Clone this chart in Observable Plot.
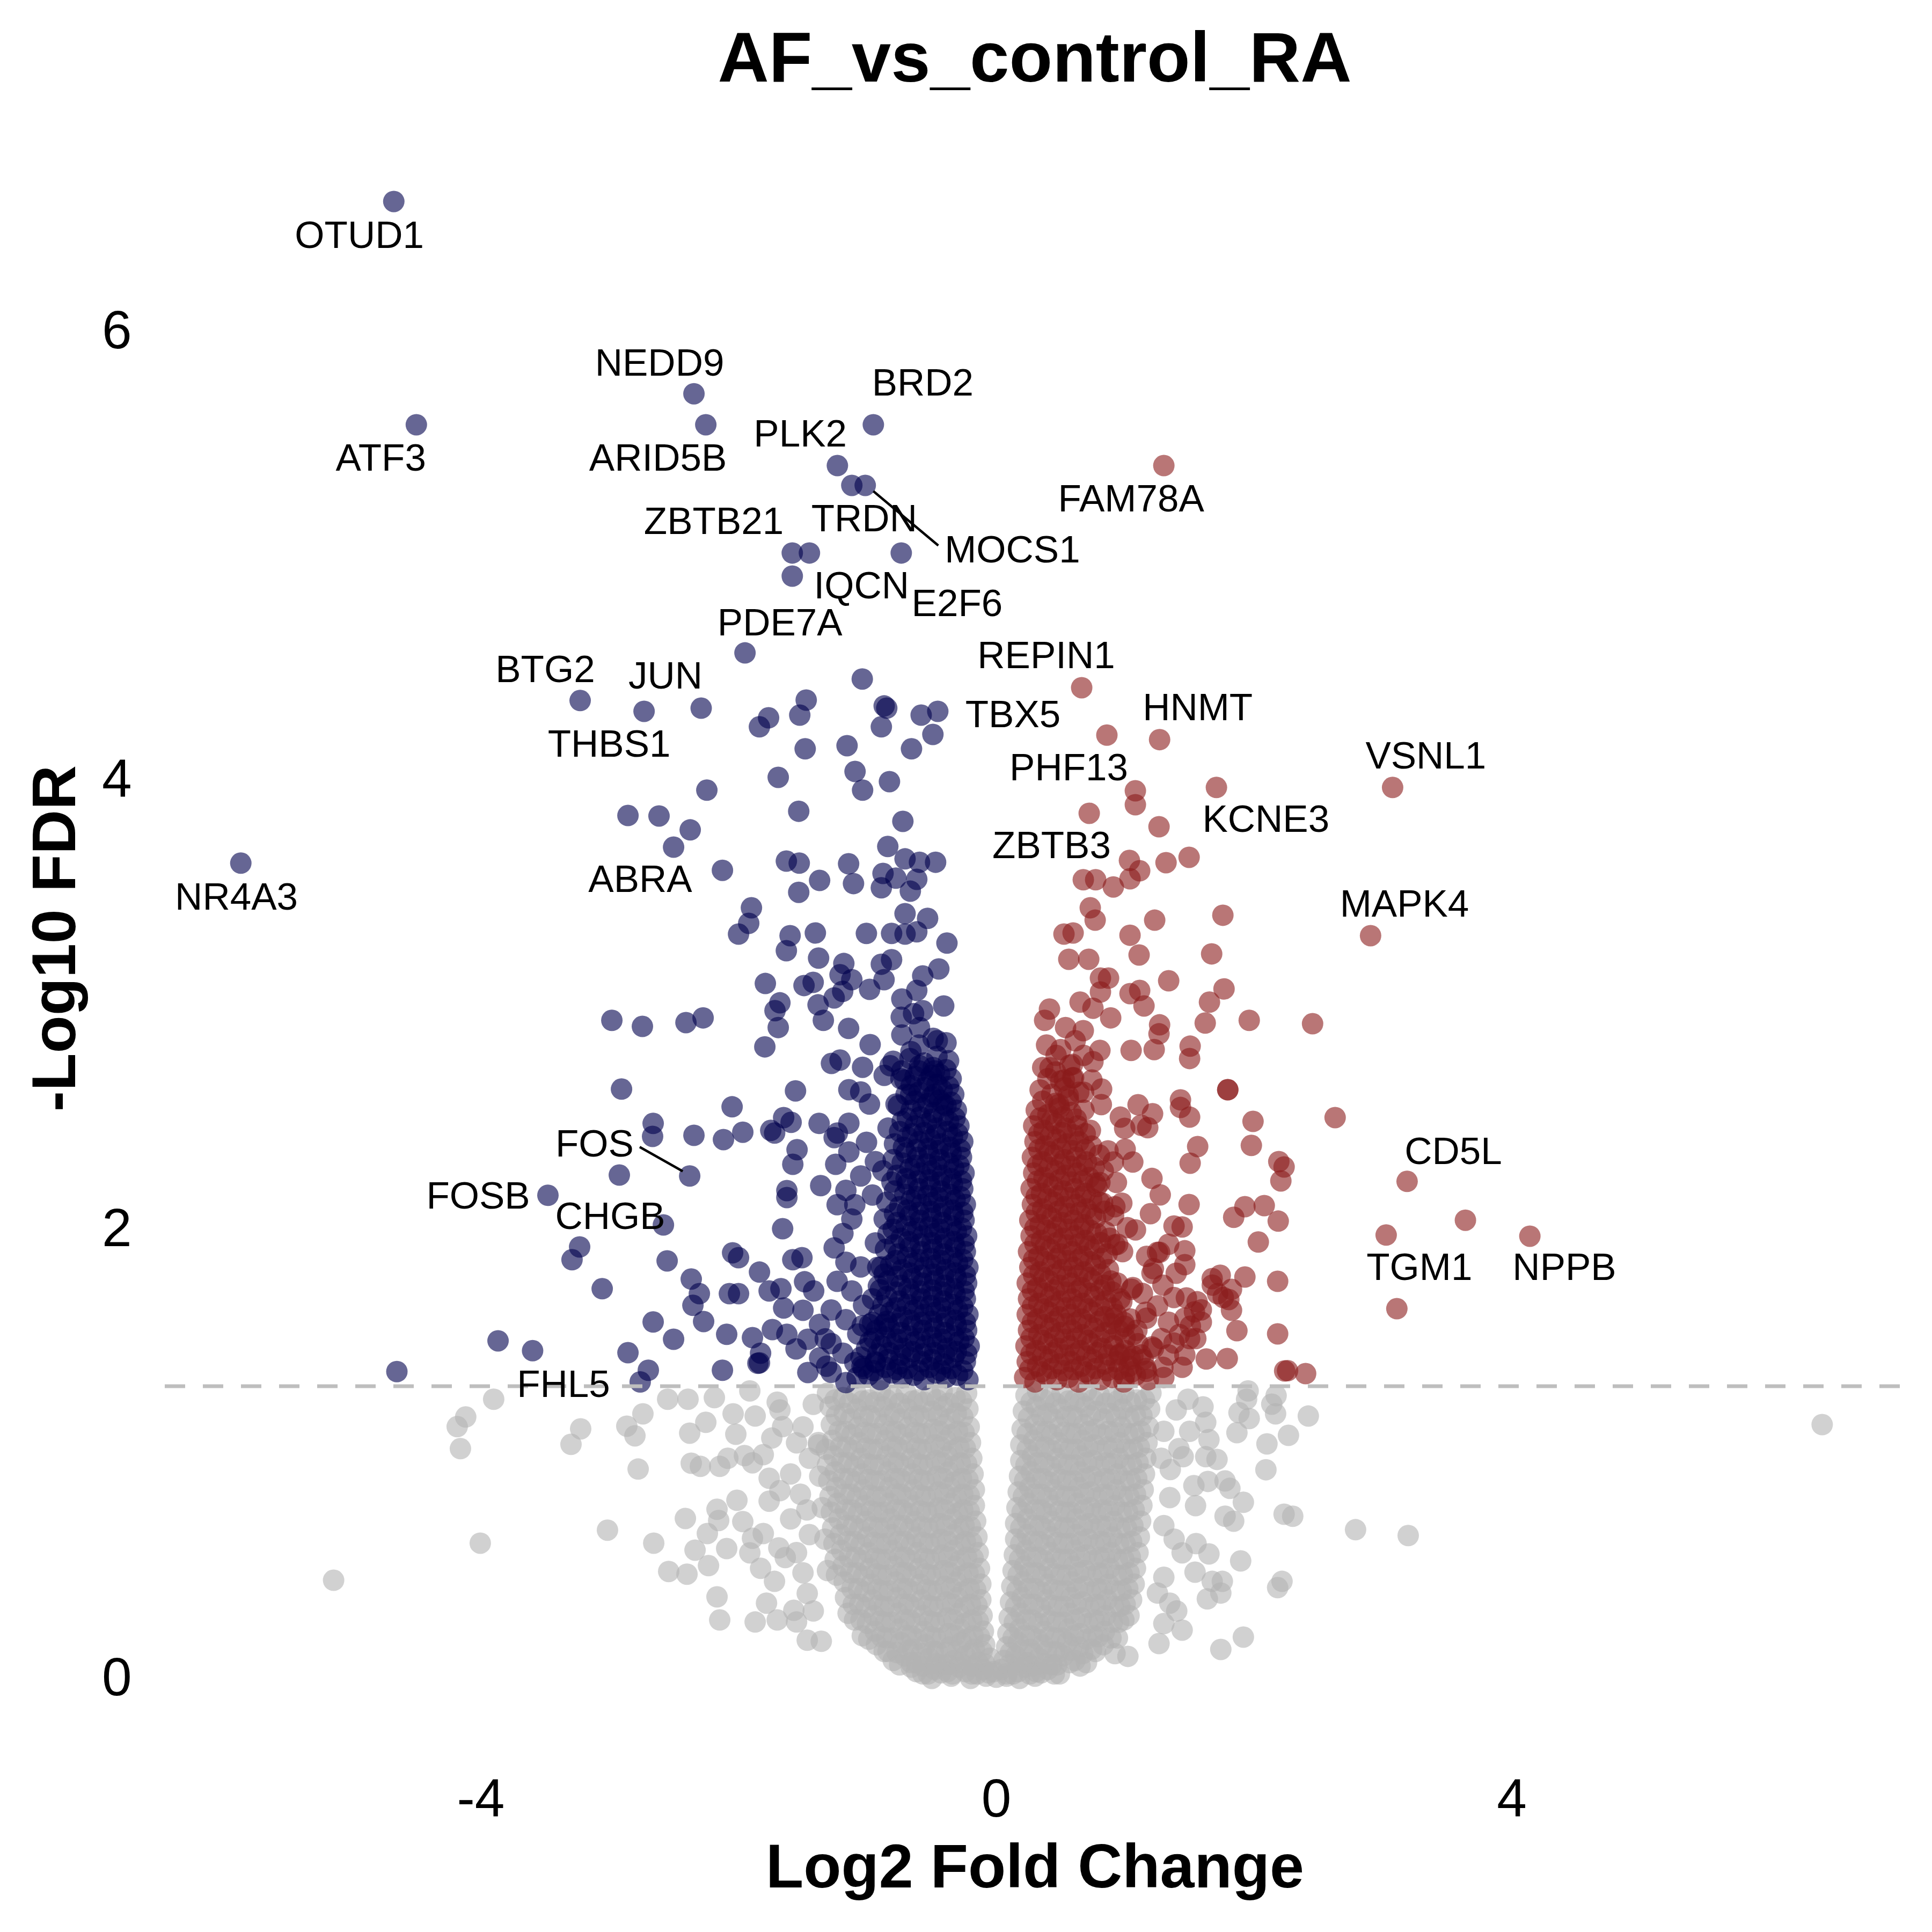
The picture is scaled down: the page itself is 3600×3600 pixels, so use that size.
<!DOCTYPE html>
<html><head><meta charset="utf-8">
<script src="https://cdn.jsdelivr.net/npm/d3@7"></script>
<script src="https://cdn.jsdelivr.net/npm/@observablehq/plot@0.6"></script>
<style>
body{margin:0;background:#fff;font-family:"Liberation Sans",Arial,Helvetica,sans-serif;}
#title{height:200px;margin-left:307px;width:3242px;text-align:center;font-size:132px;font-weight:bold;line-height:214px;white-space:nowrap;color:#000;}
</style></head><body>
<div id="title">AF_vs_control_RA</div>
<div id="chart"></div>
<script>
// ---- labelled genes ----
const geneNames = ["OTUD1","ATF3","NEDD9","ARID5B","PLK2","BRD2","TRDN","MOCS1","ZBTB21","IQCN","E2F6","PDE7A","BTG2","JUN","THBS1","NR4A3","ABRA","FOS","FOSB","CHGB","FHL5","FAM78A","REPIN1","TBX5","HNMT","PHF13","VSNL1","KCNE3","ZBTB3","MAPK4","CD5L","TGM1","NPPB"];
const geneLog2FC = [-4.675,-4.5,-2.346,-2.254,-1.233,-0.954,-1.121,-1.017,-1.583,-1.45,-0.7375,-1.95,-3.229,-2.733,-2.29,-5.862,-2.125,-2.379,-3.479,-2.583,-2.763,1.30,0.6625,0.858,1.267,1.079,3.075,1.708,0.721,2.904,3.1875,3.025,4.14];
const geneLogFDR = [6.576,5.582,5.72,5.582,5.40,5.582,5.312,5.312,5.011,5.011,5.011,4.566,4.354,4.306,4.32,3.63,3.598,2.237,2.151,2.019,1.32,5.40,4.411,4.20,4.18,3.952,3.967,3.967,3.852,3.307,2.213,1.974,1.969];
const labelX = [-4.942,-4.775,-2.6125,-2.625,-1.521,-0.571,-1.025,0.125,-2.192,-1.046,-0.304,-1.679,-3.5,-2.567,-3.004,-5.896,-2.7625,-3.117,-4.02,-2.996,-3.358,1.046,0.3875,0.129,1.5625,0.5625,3.333,2.0917,0.429,3.167,3.546,3.283,4.408];
const labelY = [6.423,5.431,5.854,5.431,5.539,5.766,5.161,5.023,5.149,4.863,4.784,4.698,4.49,4.461,4.158,3.477,3.556,2.378,2.146,2.055,1.307,5.25,4.552,4.289,4.32,4.053,4.105,3.823,3.706,3.446,2.344,1.828,1.828];
const labelLinks = [[-2.767,2.366,-2.433,2.258],[-0.954,5.286,-0.45,5.044]];

// ---- significant, down-regulated (log2FC < 0, FDR < 0.05) ----
const downScattered = [[-1.583,4.908],[-1.04,4.45],[-1.475,4.356],[-1.767,4.277],[-1.838,4.237],[-1.525,4.289],[-0.87,4.33],[-0.85,4.32],[-0.892,4.237],[-0.583,4.289],[-0.454,4.306],[-0.492,4.203],[-1.158,4.153],[-1.483,4.139],[-0.658,4.139],[-2.246,3.955],[-1.692,4.012],[-1.096,4.038],[-1.0375,3.955],[-0.829,3.993],[-1.533,3.861],[-0.725,3.816],[-2.858,3.842],[-2.617,3.84],[-2.375,3.778],[-2.504,3.701],[-1.629,3.639],[-1.529,3.63],[-1.371,3.553],[-1.533,3.5],[-0.842,3.704],[-1.146,3.627],[-1.108,3.539],[-0.879,3.584],[-0.892,3.52],[-0.708,3.649],[-0.596,3.634],[-0.471,3.634],[-0.617,3.558],[-0.667,3.505],[-0.779,3.563],[-1.9,3.431],[-1.921,3.362],[-2.0,3.314],[-1.6,3.307],[-1.629,3.24],[-1.404,3.319],[-1.379,3.207],[-1.008,3.317],[-0.8125,3.317],[-0.708,3.314],[-0.708,3.405],[-0.533,3.384],[-0.617,3.324],[-0.383,3.274],[-1.183,3.183],[-0.892,3.18],[-0.8125,3.2],[-1.792,3.094],[-1.492,3.085],[-1.421,3.099],[-1.2125,3.133],[-1.121,3.111],[-0.983,3.068],[-0.871,3.111],[-1.192,3.059],[-1.258,3.03],[-0.617,3.063],[-0.446,3.159],[-0.571,3.128],[-1.679,3.008],[-1.717,2.973],[-1.692,2.898],[-1.383,2.999],[-1.342,2.93],[-1.146,2.894],[-0.733,3.025],[-0.408,2.994],[-0.7375,2.944],[-0.642,2.96],[-0.571,2.973],[-1.796,2.812],[-0.979,2.822],[-1.279,2.738],[-1.2125,2.753],[-1.0375,2.721],[-0.733,2.865],[-0.596,2.898],[-0.458,2.839],[-0.479,2.705],[-0.6625,2.791],[-0.8,2.748],[-0.733,2.705],[-2.983,2.93],[-2.746,2.903],[-2.408,2.92],[-2.275,2.941],[-2.908,2.624],[-1.558,2.616],[-2.05,2.545],[-2.6625,2.471],[-2.667,2.413],[-2.346,2.418],[-2.117,2.399],[-1.967,2.432],[-1.75,2.44],[-1.72,2.428],[-1.65,2.497],[-1.592,2.476],[-1.375,2.471],[-1.233,2.428],[-1.546,2.354],[-1.579,2.289],[-1.246,2.289],[-1.3625,2.194],[-1.625,2.172],[-1.625,2.141],[-2.925,2.241],[-3.233,1.921],[-3.292,1.864],[-3.058,1.735],[-2.554,1.859],[-1.658,2.002],[-2.046,1.895],[-2.0,1.873],[-1.8375,1.809],[-1.579,1.864],[-1.508,1.873],[-2.367,1.778],[-2.304,1.713],[-2.354,1.661],[-2.271,1.589],[-2.6625,1.587],[-2.504,1.51],[-2.858,1.45],[-2.7,1.372],[-2.071,1.713],[-2.0,1.713],[-2.092,1.532],[-1.892,1.517],[-1.829,1.448],[-1.8375,1.405],[-2.125,1.372],[-1.7625,1.725],[-1.671,1.735],[-1.65,1.649],[-1.5,1.639],[-1.4875,1.766],[-1.417,1.725],[-1.7375,1.553],[-1.625,1.532],[-1.554,1.467],[-1.4625,1.51],[-1.4625,1.362],[-1.371,1.427],[-3.598,1.459],[-4.651,1.366],[-3.866,1.503],[-1.85,1.403],[-1.317,1.39],[-1.167,1.317],[-1.042,1.39],
[-1.144,2.472],[-1.258,2.408],[-1.144,2.344],[-1.007,2.387],[-0.938,2.301],[-1.052,2.237],[-1.167,2.173],[-1.098,2.109],[-0.961,2.152],[-1.235,2.109],[-1.121,2.045],[-1.19,1.981],[-1.258,1.917],[-1.167,1.853],[-1.052,1.832],[-1.235,1.768],[-1.121,1.725],[-1.03,1.661],[-1.281,1.64],[-1.167,1.597],[-1.075,1.533],[-0.984,1.576],[-1.281,1.491],[-1.19,1.448],[-1.098,1.406],[-1.007,1.469],[-1.372,1.576],[-1.327,1.512],[-1.281,1.363],[-0.938,1.406],[-0.915,1.747],[-0.938,1.939],[-0.87,2.045],[-0.892,1.832],[-0.87,1.576],
[-1.052,2.611],[-1.144,2.621],[-0.984,2.557],[-0.824,2.728],[-0.87,2.685],[-0.71,2.664],[-0.595,2.728],[-0.504,2.685],[-0.664,2.6],[-0.481,2.6],[-0.778,2.557],[-0.412,2.557]];
const downCore = [[-0.22,1.33],[-0.3,1.35],[-0.39,1.34],[-0.47,1.36],[-0.56,1.33],[-0.64,1.35],[-0.73,1.34],[-0.81,1.36],[-0.9,1.33],[-0.99,1.35],[-1.08,1.34],
[-0.24,1.41],[-0.33,1.43],[-0.41,1.4],[-0.5,1.42],[-0.58,1.41],[-0.67,1.43],[-0.75,1.4],[-0.84,1.42],[-0.94,1.41],[-1.05,1.43],
[-0.21,1.48],[-0.29,1.5],[-0.38,1.47],[-0.46,1.49],[-0.55,1.48],[-0.63,1.5],[-0.72,1.47],[-0.8,1.49],[-0.89,1.48],[-0.98,1.5],
[-0.23,1.55],[-0.31,1.57],[-0.4,1.54],[-0.48,1.56],[-0.57,1.55],[-0.65,1.57],[-0.74,1.54],[-0.83,1.56],[-0.93,1.55],[-1.04,1.57],
[-0.22,1.62],[-0.3,1.64],[-0.39,1.61],[-0.47,1.63],[-0.56,1.62],[-0.64,1.64],[-0.73,1.61],[-0.82,1.63],[-0.91,1.62],
[-0.24,1.69],[-0.32,1.71],[-0.41,1.68],[-0.49,1.7],[-0.58,1.69],[-0.66,1.71],[-0.75,1.68],[-0.85,1.7],[-0.96,1.69],
[-0.23,1.76],[-0.31,1.78],[-0.4,1.75],[-0.48,1.77],[-0.57,1.76],[-0.65,1.78],[-0.74,1.75],[-0.84,1.77],
[-0.22,1.83],[-0.3,1.85],[-0.39,1.82],[-0.47,1.84],[-0.56,1.83],[-0.64,1.85],[-0.73,1.82],[-0.82,1.84],[-0.92,1.83],
[-0.24,1.9],[-0.32,1.92],[-0.41,1.89],[-0.49,1.91],[-0.58,1.9],[-0.67,1.92],[-0.76,1.89],[-0.86,1.91],
[-0.23,1.97],[-0.31,1.99],[-0.4,1.96],[-0.48,1.98],[-0.57,1.97],[-0.65,1.99],[-0.74,1.96],[-0.84,1.98],
[-0.25,2.04],[-0.33,2.06],[-0.42,2.03],[-0.5,2.05],[-0.59,2.04],[-0.67,2.06],[-0.77,2.03],
[-0.24,2.11],[-0.32,2.13],[-0.41,2.1],[-0.49,2.12],[-0.58,2.11],[-0.66,2.13],[-0.75,2.1],[-0.85,2.12],
[-0.26,2.18],[-0.34,2.2],[-0.43,2.17],[-0.51,2.19],[-0.6,2.18],[-0.69,2.2],[-0.79,2.17],
[-0.25,2.25],[-0.33,2.27],[-0.42,2.24],[-0.5,2.26],[-0.59,2.25],[-0.67,2.27],[-0.77,2.24],[-0.88,2.26],
[-0.27,2.32],[-0.35,2.34],[-0.44,2.31],[-0.52,2.33],[-0.61,2.32],[-0.7,2.34],[-0.8,2.31],
[-0.26,2.39],[-0.34,2.41],[-0.43,2.38],[-0.51,2.4],[-0.6,2.39],[-0.69,2.41],[-0.79,2.38],
[-0.29,2.46],[-0.37,2.48],[-0.46,2.45],[-0.54,2.47],[-0.63,2.46],[-0.73,2.48],[-0.84,2.45],
[-0.31,2.53],[-0.39,2.55],[-0.48,2.52],[-0.57,2.54],[-0.66,2.53],[-0.76,2.55],
[-0.33,2.6],[-0.42,2.62],[-0.5,2.59],[-0.6,2.61],[-0.7,2.6],
[-0.35,2.67],[-0.44,2.69],[-0.53,2.66],[-0.63,2.68],[-0.74,2.67],
[-0.37,2.75],[-0.46,2.77],[-0.56,2.74],[-0.67,2.76],
[-0.39,2.83],[-0.49,2.85],[-0.6,2.82]];
const downCoreFill = [[-0.26,1.37],[-0.35,1.38],[-0.43,1.37],[-0.52,1.385],[-0.6,1.37],[-0.69,1.38],[-0.77,1.375],[-0.86,1.385],[-0.95,1.37],[-1.03,1.38],
[-0.23,1.445],[-0.31,1.455],[-0.4,1.44],[-0.48,1.45],[-0.57,1.445],[-0.65,1.455],[-0.74,1.44],[-0.83,1.45],[-0.92,1.445],
[-0.25,1.515],[-0.33,1.525],[-0.42,1.51],[-0.5,1.52],[-0.59,1.515],[-0.68,1.525],[-0.77,1.51],[-0.86,1.52],[-0.95,1.515],
[-0.24,1.585],[-0.32,1.595],[-0.41,1.58],[-0.5,1.59],[-0.58,1.585],[-0.67,1.595],[-0.76,1.58],[-0.85,1.59],[-0.96,1.585],
[-0.26,1.655],[-0.34,1.665],[-0.43,1.65],[-0.51,1.66],[-0.6,1.655],[-0.69,1.665],[-0.78,1.65],[-0.88,1.66],
[-0.25,1.725],[-0.33,1.735],[-0.42,1.72],[-0.5,1.73],[-0.59,1.725],[-0.68,1.735],[-0.78,1.72],[-0.9,1.73],
[-0.24,1.795],[-0.32,1.805],[-0.41,1.79],[-0.49,1.8],[-0.58,1.795],[-0.67,1.805],[-0.77,1.79],[-0.87,1.8],
[-0.26,1.865],[-0.34,1.875],[-0.43,1.86],[-0.51,1.87],[-0.6,1.865],[-0.69,1.875],[-0.78,1.86],
[-0.25,1.935],[-0.33,1.945],[-0.42,1.93],[-0.5,1.94],[-0.59,1.935],[-0.68,1.945],[-0.79,1.93],
[-0.27,2.005],[-0.35,2.015],[-0.44,2.0],[-0.52,2.01],[-0.61,2.005],[-0.7,2.015],[-0.8,2.0],
[-0.26,2.075],[-0.34,2.085],[-0.43,2.07],[-0.51,2.08],[-0.6,2.075],[-0.69,2.085],[-0.79,2.07],
[-0.28,2.145],[-0.36,2.155],[-0.45,2.14],[-0.53,2.15],[-0.62,2.145],[-0.71,2.155],
[-0.27,2.215],[-0.35,2.225],[-0.44,2.21],[-0.52,2.22],[-0.61,2.215],[-0.7,2.225],[-0.81,2.21],
[-0.29,2.285],[-0.37,2.295],[-0.46,2.28],[-0.54,2.29],[-0.63,2.285],[-0.73,2.295],
[-0.28,2.355],[-0.36,2.365],[-0.45,2.35],[-0.53,2.36],[-0.62,2.355],[-0.72,2.365],
[-0.3,2.425],[-0.38,2.435],[-0.47,2.42],[-0.56,2.43],[-0.65,2.425],[-0.75,2.435],
[-0.32,2.495],[-0.41,2.505],[-0.5,2.49],[-0.59,2.5],[-0.69,2.495],
[-0.35,2.565],[-0.44,2.575],[-0.53,2.56],[-0.63,2.57],
[-0.37,2.635],[-0.46,2.645],[-0.56,2.63],[-0.66,2.64],
[-0.39,2.71],[-0.49,2.72],[-0.6,2.705]];

// ---- significant, up-regulated (log2FC > 0, FDR < 0.05) ----
const upScattered = [[1.079,3.89],[1.2625,3.792],[1.033,3.642],[1.1125,3.596],[1.317,3.632],[1.496,3.656],[0.675,3.556],[0.771,3.556],[0.908,3.524],[1.0375,3.56],[0.729,3.431],[0.767,3.376],[1.229,3.376],[1.758,3.398],[0.525,3.314],[0.596,3.319],[1.0375,3.309],[1.108,3.221],[1.671,3.226],[0.5625,3.202],[0.717,3.202],[0.808,3.118],[0.871,3.118],[1.3375,3.106],[0.808,3.056],[1.0375,3.049],[1.1125,3.063],[1.146,2.994],[1.767,3.07],[1.654,3.011],[0.4125,2.98],[0.375,2.93],[0.65,3.011],[0.75,2.984],[0.8875,2.941],[1.621,2.918],[1.9625,2.93],[2.454,2.915],[0.5375,2.898],[0.675,2.884],[1.267,2.91],[1.2625,2.87],[0.6125,2.839],[1.046,2.796],[1.225,2.8],[1.504,2.815],[1.5,2.76],[0.804,2.796],[0.417,2.719],[0.592,2.734],[0.75,2.746],[0.592,2.674],[0.742,2.664],[0.817,2.624],[0.558,2.595],[1.796,2.621],[1.796,2.621],[1.429,2.576],[1.429,2.542],[1.5,2.499],[1.1,2.554],[1.2125,2.514],[2.629,2.497],[1.992,2.48],[1.175,2.452],[0.9625,2.499],[0.996,2.449],[1.979,2.373],[1.5625,2.368],[1.504,2.294],[2.192,2.301],[2.233,2.277],[2.208,2.215],[1.0,2.356],[0.867,2.349],[0.908,2.299],[1.496,2.11],[1.196,2.069],[1.842,2.053],[1.929,2.1],[2.079,2.105],[2.1875,2.036],[2.033,1.943],[1.379,2.014],[1.442,2.01],[1.3375,1.933],[1.4625,1.904],[1.267,1.897],[1.208,1.804],[1.4625,1.842],[1.396,1.804],[1.675,1.78],[1.7375,1.795],[1.929,1.787],[2.183,1.768],[1.717,1.713],[1.804,1.687],[1.825,1.639],[1.558,1.677],[1.5375,1.632],[1.475,1.694],[1.867,1.548],[2.183,1.534],[1.5,1.513],[1.379,1.493],[1.629,1.422],[1.792,1.424],[2.2375,1.369],[2.4,1.357],[3.108,1.646],[2.26,1.37],[3.64,2.04],
[0.974,2.116],[1.017,2.007],[0.91,2.061],[0.942,1.933],[1.08,1.997],[1.166,1.879],[1.251,1.897],[1.219,1.824],[1.293,1.751],[1.134,1.714],[1.049,1.732],[0.974,1.677],[0.889,1.769],[0.91,1.604],[0.995,1.568],[1.091,1.55],[1.166,1.604],[1.251,1.659],[1.336,1.586],[1.282,1.513],[1.208,1.476],[1.123,1.44],[1.038,1.421],[0.953,1.44],[1.336,1.44],[1.421,1.531],[1.463,1.604],[1.378,1.696],[1.506,1.568],[1.442,1.385],[1.293,1.385],[1.166,1.367],[0.995,1.348],[1.463,1.44],[1.548,1.513],[1.591,1.586],[1.676,1.751],[1.761,1.696],[1.825,1.732],[1.591,1.641],
[1.123,2.463],[1.059,2.299],[1.208,2.226],[0.932,2.208],[1.272,2.153],[0.804,2.208],[0.825,2.116],[0.847,1.988],
[0.464,2.774],[0.677,2.774],[0.528,2.665],[0.677,2.61],[0.815,2.555],[0.485,2.555]];
const upCore = [[0.22,1.34],[0.3,1.32],[0.39,1.35],[0.47,1.33],[0.56,1.34],[0.64,1.32],[0.73,1.35],[0.81,1.33],[0.9,1.34],[0.99,1.32],[1.08,1.35],[1.18,1.33],[1.3,1.34],
[0.24,1.41],[0.32,1.39],[0.41,1.42],[0.49,1.4],[0.58,1.41],[0.66,1.39],[0.75,1.42],[0.84,1.4],[0.93,1.41],[1.03,1.39],[1.14,1.42],
[0.23,1.48],[0.31,1.46],[0.4,1.49],[0.48,1.47],[0.57,1.48],[0.65,1.46],[0.74,1.49],[0.82,1.47],[0.91,1.48],[1.0,1.46],[1.1,1.49],[1.22,1.47],
[0.25,1.55],[0.33,1.53],[0.42,1.56],[0.5,1.54],[0.59,1.55],[0.67,1.53],[0.76,1.56],[0.85,1.54],[0.95,1.55],[1.06,1.53],
[0.24,1.62],[0.32,1.6],[0.41,1.63],[0.49,1.61],[0.58,1.62],[0.66,1.6],[0.75,1.63],[0.84,1.61],[0.93,1.62],[1.04,1.6],[1.16,1.63],
[0.25,1.69],[0.33,1.67],[0.42,1.7],[0.5,1.68],[0.59,1.69],[0.67,1.67],[0.76,1.7],[0.85,1.68],[0.96,1.69],
[0.24,1.76],[0.32,1.74],[0.41,1.77],[0.49,1.75],[0.58,1.76],[0.66,1.74],[0.75,1.77],[0.84,1.75],[0.94,1.76],[1.06,1.74],
[0.26,1.83],[0.34,1.81],[0.43,1.84],[0.51,1.82],[0.6,1.83],[0.68,1.81],[0.77,1.84],[0.87,1.82],
[0.25,1.9],[0.33,1.88],[0.42,1.91],[0.5,1.89],[0.59,1.9],[0.67,1.88],[0.76,1.91],[0.86,1.89],[0.98,1.9],
[0.27,1.97],[0.35,1.95],[0.44,1.98],[0.52,1.96],[0.61,1.97],[0.69,1.95],[0.78,1.98],[0.88,1.96],
[0.26,2.04],[0.34,2.02],[0.43,2.05],[0.51,2.03],[0.6,2.04],[0.68,2.02],[0.77,2.05],
[0.28,2.11],[0.36,2.09],[0.45,2.12],[0.53,2.1],[0.62,2.11],[0.7,2.09],[0.8,2.12],[0.92,2.1],
[0.27,2.18],[0.35,2.16],[0.44,2.19],[0.52,2.17],[0.61,2.18],[0.69,2.16],[0.78,2.19],
[0.29,2.25],[0.37,2.23],[0.46,2.26],[0.54,2.24],[0.63,2.25],[0.72,2.23],[0.83,2.26],
[0.28,2.32],[0.36,2.3],[0.45,2.33],[0.53,2.31],[0.62,2.32],[0.7,2.3],[0.8,2.33],
[0.3,2.39],[0.38,2.37],[0.47,2.4],[0.55,2.38],[0.64,2.39],[0.74,2.37],
[0.29,2.46],[0.37,2.44],[0.46,2.47],[0.54,2.45],[0.63,2.46],[0.73,2.44],
[0.31,2.53],[0.4,2.51],[0.49,2.54],[0.58,2.52],[0.68,2.53],
[0.34,2.62],[0.43,2.6],[0.53,2.63],[0.64,2.61],
[0.36,2.72],[0.46,2.7],[0.57,2.73],
[0.39,2.82],[0.5,2.8]];
const upCoreFill = [[0.26,1.375],[0.35,1.365],[0.43,1.38],[0.52,1.37],[0.6,1.375],[0.69,1.365],[0.77,1.38],[0.86,1.37],[0.95,1.375],[1.05,1.365],[1.16,1.38],
[0.27,1.445],[0.36,1.435],[0.44,1.45],[0.53,1.44],[0.61,1.445],[0.7,1.435],[0.78,1.45],[0.87,1.44],[0.96,1.445],[1.06,1.435],
[0.27,1.515],[0.36,1.505],[0.45,1.52],[0.53,1.51],[0.62,1.515],[0.71,1.505],[0.8,1.52],[0.9,1.51],[1.0,1.515],
[0.28,1.585],[0.37,1.575],[0.45,1.59],[0.54,1.58],[0.62,1.585],[0.71,1.575],[0.8,1.59],[0.89,1.58],[0.99,1.585],
[0.28,1.655],[0.37,1.645],[0.45,1.66],[0.54,1.65],[0.62,1.655],[0.71,1.645],[0.8,1.66],[0.9,1.65],
[0.28,1.725],[0.37,1.715],[0.45,1.73],[0.54,1.72],[0.63,1.725],[0.72,1.715],[0.81,1.73],[0.9,1.72],
[0.29,1.795],[0.37,1.785],[0.46,1.8],[0.55,1.79],[0.63,1.795],[0.72,1.785],[0.81,1.8],
[0.29,1.865],[0.38,1.855],[0.47,1.87],[0.55,1.86],[0.64,1.865],[0.73,1.855],[0.82,1.87],
[0.3,1.935],[0.38,1.925],[0.47,1.94],[0.55,1.93],[0.64,1.935],[0.72,1.925],[0.81,1.94],[0.92,1.93],
[0.3,2.005],[0.39,1.995],[0.47,2.01],[0.56,2.0],[0.65,2.005],[0.73,1.995],
[0.31,2.075],[0.39,2.065],[0.48,2.08],[0.56,2.07],[0.65,2.075],[0.74,2.065],[0.84,2.08],
[0.31,2.145],[0.4,2.135],[0.48,2.15],[0.57,2.14],[0.66,2.145],[0.74,2.135],
[0.32,2.215],[0.4,2.205],[0.49,2.22],[0.58,2.21],[0.67,2.215],[0.77,2.205],
[0.32,2.285],[0.41,2.275],[0.5,2.29],[0.58,2.28],[0.67,2.285],[0.76,2.275],
[0.33,2.355],[0.41,2.345],[0.5,2.36],[0.59,2.35],[0.69,2.355],
[0.33,2.425],[0.42,2.415],[0.51,2.43],[0.6,2.42],[0.69,2.425],
[0.34,2.495],[0.43,2.485],[0.52,2.5],[0.62,2.49],
[0.36,2.57],[0.46,2.56],[0.56,2.575],
[0.4,2.67],[0.5,2.66],[0.6,2.675]];

// ---- not significant (FDR >= 0.05) ----
const nsScattered = [[-3.9,1.243],[-4.117,1.164],[-4.183,1.121],[-4.158,1.023],[-3.225,1.111],[-3.3,1.042],[-2.742,1.178],[-2.867,1.123],[-2.804,1.08],[-2.779,0.932],[-2.55,1.243],[-2.392,1.243],[-2.1875,1.25],[-2.254,1.14],[-2.379,1.092],[-2.367,0.958],[-2.296,0.944],[-2.146,0.944],[-2.083,0.98],[-2.042,1.178],[-2.021,1.087],[-1.9125,1.28],[-1.871,1.168],[-1.954,0.992],[-1.892,0.96],[-1.808,0.996],[-1.7,1.23],[-1.679,1.195],[-1.658,1.121],[-1.7625,0.891],[-1.679,0.836],[-2.0125,0.793],[-1.7625,0.789],[-2.167,0.753],[-2.4125,0.712],[-2.154,0.703],[-1.967,0.698],[-2.242,0.645],[-2.3375,0.571],[-2.092,0.578],[-1.9125,0.559],[-1.892,0.624],[-1.808,0.645],[-1.6875,0.581],[-1.829,0.49],[-1.721,0.432],[-2.233,0.502],[-2.542,0.476],[-2.4,0.464],[-2.167,0.363],[-2.146,0.26],[-1.783,0.335],[-1.871,0.251],[-1.7,0.26],[-1.55,0.251],[-1.467,0.17],[-1.358,0.165],[-3.017,0.66],[-2.658,0.602],[-4.004,0.602],[-5.142,0.437],[-1.742,1.07],[-1.55,1.049],[-1.596,0.91],[-1.596,0.71],[-1.6375,0.538],[-1.571,0.303],[-1.467,0.378],
[-1.42,1.22],[-1.5,1.12],[-1.45,0.98],[-1.52,0.82],[-1.45,0.64],[-1.5,0.47],[-1.42,0.3],[-1.38,1.05],[-1.55,0.56],[-1.47,0.75],
[1.954,1.28],[1.942,1.243],[2.171,1.259],[2.1375,1.221],[2.167,1.178],[2.421,1.168],[1.9625,1.157],[1.883,1.183],[1.604,1.209],[1.625,1.14],[1.867,1.094],[2.267,1.082],[2.1,1.044],[1.65,1.063],[1.7125,0.975],[2.092,0.929],[1.642,0.877],[1.775,0.879],[1.8125,0.846],[1.917,0.784],[1.546,0.769],[1.775,0.722],[1.842,0.7],[2.233,0.731],[2.3,0.722],[2.7875,0.662],[3.196,0.636],[6.408,1.13],[1.896,0.523],[2.217,0.432],[2.183,0.404],[1.754,0.432],[1.742,0.38],[1.6375,0.354],[1.542,0.473],[1.65,0.554],[1.917,0.184],[1.742,0.129],[1.442,0.215],[1.2625,0.155],[1.021,0.098],[0.921,0.11],[1.533,0.858],[1.625,0.987],[1.45,0.987],[1.396,1.195],[1.4875,1.243],[1.417,1.023],[1.346,0.805],[1.442,0.559],[1.346,0.335],[1.3,0.244],[1.675,0.432],
[1.3,1.1],[1.35,0.93],[1.3,0.68],[1.38,0.62],[1.3,0.45],[1.25,0.38],[1.4,0.3],[1.5,1.1],[1.55,0.6],[1.28,0.98]];
const nsCore = [[-0.23,1.27],[-0.32,1.25],[-0.42,1.28],[-0.51,1.26],[-0.61,1.24],[-0.7,1.27],[-0.8,1.25],[-0.9,1.28],[-0.99,1.24],[-1.09,1.27],[-1.19,1.25],[-1.31,1.27],
[0.23,1.26],[0.32,1.28],[0.42,1.25],[0.51,1.27],[0.61,1.24],[0.7,1.28],[0.8,1.26],[0.9,1.25],[0.99,1.27],[1.09,1.24],[1.2,1.27],
[-0.22,1.2],[-0.31,1.18],[-0.41,1.21],[-0.5,1.19],[-0.6,1.17],[-0.69,1.2],[-0.79,1.18],[-0.88,1.21],[-0.98,1.17],[-1.08,1.2],[-1.18,1.18],[-1.29,1.21],
[0.21,1.19],[0.31,1.21],[0.4,1.18],[0.5,1.2],[0.59,1.17],[0.69,1.21],[0.78,1.19],[0.88,1.18],[0.98,1.2],[1.08,1.17],[1.19,1.2],
[-0.21,1.12],[-0.3,1.1],[-0.4,1.13],[-0.49,1.11],[-0.59,1.09],[-0.68,1.12],[-0.78,1.1],[-0.87,1.13],[-0.97,1.09],[-1.07,1.12],[-1.17,1.1],[-1.28,1.13],
[0.2,1.11],[0.3,1.13],[0.39,1.1],[0.49,1.12],[0.58,1.09],[0.68,1.13],[0.77,1.11],[0.87,1.1],[0.97,1.12],[1.07,1.09],[1.18,1.12],
[-0.2,1.05],[-0.29,1.03],[-0.39,1.06],[-0.48,1.04],[-0.58,1.02],[-0.67,1.05],[-0.77,1.03],[-0.86,1.06],[-0.96,1.02],[-1.06,1.05],[-1.16,1.03],[-1.27,1.06],[-1.38,1.04],
[0.19,1.04],[0.29,1.06],[0.38,1.03],[0.48,1.05],[0.57,1.02],[0.67,1.06],[0.76,1.04],[0.86,1.03],[0.96,1.05],[1.06,1.02],[1.17,1.05],
[-0.19,0.98],[-0.28,0.96],[-0.38,0.99],[-0.47,0.97],[-0.57,0.95],[-0.66,0.98],[-0.76,0.96],[-0.85,0.99],[-0.95,0.95],[-1.05,0.98],[-1.15,0.96],[-1.26,0.99],
[0.19,0.97],[0.28,0.99],[0.37,0.96],[0.47,0.98],[0.56,0.95],[0.66,0.99],[0.75,0.97],[0.85,0.96],[0.95,0.98],[1.05,0.95],[1.16,0.98],
[-0.18,0.91],[-0.27,0.89],[-0.37,0.92],[-0.46,0.9],[-0.56,0.88],[-0.65,0.91],[-0.75,0.89],[-0.84,0.92],[-0.94,0.88],[-1.04,0.91],[-1.14,0.89],[-1.25,0.92],[-1.37,0.9],
[0.18,0.9],[0.27,0.92],[0.36,0.89],[0.46,0.91],[0.55,0.88],[0.65,0.92],[0.74,0.9],[0.84,0.89],[0.94,0.91],[1.04,0.88],[1.15,0.91],
[-0.17,0.84],[-0.26,0.82],[-0.36,0.85],[-0.45,0.83],[-0.55,0.81],[-0.64,0.84],[-0.74,0.82],[-0.83,0.85],[-0.93,0.81],[-1.03,0.84],[-1.13,0.82],[-1.24,0.85],
[0.17,0.83],[0.26,0.85],[0.35,0.82],[0.45,0.84],[0.54,0.81],[0.64,0.85],[0.73,0.83],[0.83,0.82],[0.93,0.84],[1.03,0.81],[1.14,0.84],
[-0.17,0.77],[-0.26,0.75],[-0.35,0.78],[-0.45,0.76],[-0.54,0.74],[-0.64,0.77],[-0.73,0.75],[-0.83,0.78],[-0.92,0.74],[-1.02,0.77],[-1.12,0.75],[-1.23,0.78],[-1.35,0.76],
[0.16,0.76],[0.25,0.78],[0.35,0.75],[0.44,0.77],[0.54,0.74],[0.63,0.78],[0.73,0.76],[0.82,0.75],[0.92,0.77],[1.02,0.74],[1.13,0.77],
[-0.16,0.7],[-0.25,0.68],[-0.34,0.71],[-0.44,0.69],[-0.53,0.67],[-0.63,0.7],[-0.72,0.68],[-0.82,0.71],[-0.91,0.67],[-1.01,0.7],[-1.11,0.68],[-1.22,0.71],
[0.15,0.69],[0.24,0.71],[0.34,0.68],[0.43,0.7],[0.53,0.67],[0.62,0.71],[0.72,0.69],[0.81,0.68],[0.91,0.7],[1.01,0.67],[1.12,0.7],
[-0.15,0.63],[-0.24,0.61],[-0.33,0.64],[-0.43,0.62],[-0.52,0.6],[-0.62,0.63],[-0.71,0.61],[-0.81,0.64],[-0.9,0.6],[-1.0,0.63],[-1.1,0.61],[-1.21,0.64],[-1.33,0.62],
[0.15,0.62],[0.24,0.64],[0.33,0.61],[0.43,0.63],[0.52,0.6],[0.62,0.64],[0.71,0.62],[0.81,0.61],[0.9,0.63],[1.0,0.6],[1.11,0.63],
[-0.14,0.56],[-0.23,0.54],[-0.33,0.57],[-0.42,0.55],[-0.52,0.53],[-0.61,0.56],[-0.71,0.54],[-0.8,0.57],[-0.9,0.53],[-0.99,0.56],[-1.09,0.54],[-1.2,0.57],
[0.14,0.55],[0.23,0.57],[0.32,0.54],[0.42,0.56],[0.51,0.53],[0.61,0.57],[0.7,0.55],[0.8,0.54],[0.89,0.56],[0.99,0.53],[1.1,0.56],
[-0.13,0.49],[-0.22,0.47],[-0.32,0.5],[-0.41,0.48],[-0.51,0.46],[-0.6,0.49],[-0.7,0.47],[-0.79,0.5],[-0.89,0.46],[-0.98,0.49],[-1.08,0.47],[-1.19,0.5],[-1.31,0.48],
[0.13,0.48],[0.22,0.5],[0.31,0.47],[0.41,0.49],[0.5,0.46],[0.6,0.5],[0.69,0.48],[0.79,0.47],[0.88,0.49],[0.98,0.46],[1.08,0.49],
[-0.12,0.42],[-0.21,0.4],[-0.31,0.43],[-0.4,0.41],[-0.5,0.39],[-0.59,0.42],[-0.69,0.4],[-0.78,0.43],[-0.88,0.39],[-0.97,0.42],[-1.07,0.4],[-1.18,0.43],
[0.12,0.41],[0.21,0.43],[0.3,0.4],[0.4,0.42],[0.49,0.39],[0.59,0.43],[0.68,0.41],[0.78,0.4],[0.87,0.42],[0.97,0.39],[1.07,0.42],
[-0.12,0.35],[-0.2,0.33],[-0.3,0.36],[-0.39,0.34],[-0.49,0.32],[-0.58,0.35],[-0.68,0.33],[-0.77,0.36],[-0.87,0.32],[-0.96,0.35],[-1.06,0.33],[-1.17,0.36],
[0.11,0.34],[0.2,0.36],[0.29,0.33],[0.39,0.35],[0.48,0.32],[0.58,0.36],[0.67,0.34],[0.77,0.33],[0.86,0.35],[0.96,0.32],[1.05,0.35],
[-0.11,0.28],[-0.19,0.26],[-0.29,0.29],[-0.38,0.27],[-0.48,0.25],[-0.57,0.28],[-0.67,0.26],[-0.76,0.29],[-0.86,0.25],[-0.95,0.28],[-1.05,0.26],[-1.15,0.29],
[0.1,0.27],[0.19,0.29],[0.28,0.26],[0.38,0.28],[0.47,0.25],[0.57,0.29],[0.66,0.27],[0.76,0.26],[0.85,0.28],[0.95,0.25],[1.03,0.28],
[-0.1,0.21],[-0.18,0.19],[-0.28,0.22],[-0.37,0.2],[-0.47,0.18],[-0.56,0.21],[-0.66,0.19],[-0.75,0.22],[-0.85,0.18],[-0.94,0.21],[-1.04,0.19],
[0.09,0.2],[0.18,0.22],[0.27,0.19],[0.37,0.21],[0.46,0.18],[0.56,0.22],[0.65,0.2],[0.75,0.19],[0.84,0.21],[0.94,0.18],
[-0.09,0.15],[-0.17,0.13],[-0.27,0.16],[-0.36,0.14],[-0.46,0.12],[-0.55,0.15],[-0.65,0.13],[-0.74,0.16],[-0.84,0.12],[-0.93,0.15],
[0.08,0.14],[0.17,0.16],[0.26,0.13],[0.36,0.15],[0.45,0.12],[0.55,0.16],[0.64,0.14],[0.74,0.13],[0.83,0.15],
[-0.05,0.09],[-0.14,0.07],[-0.24,0.1],[-0.33,0.08],[-0.43,0.06],[-0.52,0.09],[-0.62,0.07],[-0.71,0.1],[-0.8,0.08],
[0.06,0.08],[0.15,0.1],[0.24,0.07],[0.33,0.09],[0.43,0.06],[0.52,0.1],[0.61,0.08],[0.7,0.07],
[-0.02,0.03],[-0.1,0.04],[-0.19,0.02],[-0.29,0.05],[-0.38,0.03],[-0.48,0.04],[-0.57,0.02],[-0.66,0.05],
[0.04,0.04],[0.13,0.02],[0.22,0.05],[0.31,0.03],[0.4,0.04],[0.49,0.02],
[0.0,0.005],[-0.08,0.01],[0.08,0.01],[-0.2,0.0],[0.18,0.0],[-0.35,0.01],[0.3,0.01],[-0.5,0.0]];
const nsCoreFill = [[-0.27,1.235],[-0.37,1.225],[-0.46,1.24],[-0.56,1.23],[-0.65,1.235],[-0.75,1.225],[-0.85,1.24],[-0.94,1.23],[-1.04,1.235],[-1.14,1.225],[-1.25,1.24],
[0.27,1.23],[0.37,1.24],[0.46,1.225],[0.56,1.235],[0.65,1.23],[0.75,1.24],[0.85,1.225],[0.94,1.235],[1.04,1.23],[1.15,1.24],
[-0.26,1.165],[-0.36,1.155],[-0.45,1.17],[-0.55,1.16],[-0.64,1.165],[-0.74,1.155],[-0.83,1.17],[-0.93,1.16],[-1.03,1.165],[-1.13,1.155],[-1.24,1.17],
[0.25,1.16],[0.35,1.17],[0.44,1.155],[0.54,1.165],[0.63,1.16],[0.73,1.17],[0.83,1.155],[0.93,1.165],[1.03,1.16],[1.13,1.17],
[-0.25,1.095],[-0.35,1.085],[-0.44,1.1],[-0.54,1.09],[-0.63,1.095],[-0.73,1.085],[-0.82,1.1],[-0.92,1.09],[-1.02,1.095],[-1.12,1.085],[-1.22,1.1],
[0.24,1.09],[0.34,1.1],[0.43,1.085],[0.53,1.095],[0.62,1.09],[0.72,1.1],[0.82,1.085],[0.92,1.095],[1.02,1.09],[1.12,1.1],
[-0.24,1.025],[-0.34,1.015],[-0.43,1.03],[-0.53,1.02],[-0.62,1.025],[-0.72,1.015],[-0.81,1.03],[-0.91,1.02],[-1.01,1.025],[-1.11,1.015],[-1.21,1.03],[-1.32,1.02],
[0.24,1.02],[0.33,1.03],[0.43,1.015],[0.52,1.025],[0.62,1.02],[0.71,1.03],[0.81,1.015],[0.91,1.025],[1.01,1.02],[1.11,1.03],
[-0.23,0.955],[-0.33,0.945],[-0.42,0.96],[-0.52,0.95],[-0.61,0.955],[-0.71,0.945],[-0.8,0.96],[-0.9,0.95],[-1.0,0.955],[-1.1,0.945],[-1.2,0.96],[-1.31,0.95],
[0.23,0.95],[0.32,0.96],[0.42,0.945],[0.51,0.955],[0.61,0.95],[0.7,0.96],[0.8,0.945],[0.9,0.955],[1.0,0.95],[1.1,0.96],
[-0.22,0.885],[-0.32,0.875],[-0.41,0.89],[-0.51,0.88],[-0.6,0.885],[-0.7,0.875],[-0.79,0.89],[-0.89,0.88],[-0.99,0.885],[-1.09,0.875],[-1.19,0.89],[-1.3,0.88],
[0.22,0.88],[0.31,0.89],[0.41,0.875],[0.5,0.885],[0.6,0.88],[0.69,0.89],[0.79,0.875],[0.89,0.885],[0.99,0.88],[1.09,0.89],
[-0.21,0.815],[-0.31,0.805],[-0.4,0.82],[-0.5,0.81],[-0.59,0.815],[-0.69,0.805],[-0.78,0.82],[-0.88,0.81],[-0.98,0.815],[-1.08,0.805],[-1.18,0.82],[-1.29,0.81],
[0.21,0.81],[0.3,0.82],[0.4,0.805],[0.49,0.815],[0.59,0.81],[0.68,0.82],[0.78,0.805],[0.88,0.815],[0.98,0.81],[1.08,0.82],
[-0.21,0.745],[-0.3,0.735],[-0.4,0.75],[-0.49,0.74],[-0.59,0.745],[-0.68,0.735],[-0.78,0.75],[-0.87,0.74],[-0.97,0.745],[-1.07,0.735],[-1.17,0.75],[-1.28,0.74],
[0.2,0.74],[0.3,0.75],[0.39,0.735],[0.49,0.745],[0.58,0.74],[0.68,0.75],[0.77,0.735],[0.87,0.745],[0.97,0.74],[1.07,0.75],
[-0.2,0.675],[-0.29,0.665],[-0.39,0.68],[-0.48,0.67],[-0.58,0.675],[-0.67,0.665],[-0.77,0.68],[-0.86,0.67],[-0.96,0.675],[-1.06,0.665],[-1.16,0.68],[-1.27,0.67],
[0.19,0.67],[0.29,0.68],[0.38,0.665],[0.48,0.675],[0.57,0.67],[0.67,0.68],[0.76,0.665],[0.86,0.675],[0.96,0.67],[1.06,0.68],
[-0.19,0.605],[-0.28,0.595],[-0.38,0.61],[-0.47,0.6],[-0.57,0.605],[-0.66,0.595],[-0.76,0.61],[-0.85,0.6],[-0.95,0.605],[-1.05,0.595],[-1.15,0.61],[-1.26,0.6],
[0.19,0.6],[0.28,0.61],[0.38,0.595],[0.47,0.605],[0.57,0.6],[0.66,0.61],[0.76,0.595],[0.85,0.605],[0.95,0.6],[1.05,0.61],
[-0.18,0.535],[-0.28,0.525],[-0.37,0.54],[-0.47,0.53],[-0.56,0.535],[-0.66,0.525],[-0.75,0.54],[-0.85,0.53],[-0.94,0.535],[-1.04,0.525],[-1.14,0.54],[-1.25,0.53],
[0.18,0.53],[0.27,0.54],[0.37,0.525],[0.46,0.535],[0.56,0.53],[0.65,0.54],[0.75,0.525],[0.84,0.535],[0.94,0.53],[1.04,0.54],
[-0.17,0.465],[-0.27,0.455],[-0.36,0.47],[-0.46,0.46],[-0.55,0.465],[-0.65,0.455],[-0.74,0.47],[-0.84,0.46],[-0.93,0.465],[-1.03,0.455],[-1.13,0.47],[-1.24,0.46],
[0.17,0.46],[0.26,0.47],[0.36,0.455],[0.45,0.465],[0.55,0.46],[0.64,0.47],[0.74,0.455],[0.83,0.465],[0.93,0.46],[1.03,0.47],
[-0.16,0.395],[-0.26,0.385],[-0.35,0.4],[-0.45,0.39],[-0.54,0.395],[-0.64,0.385],[-0.73,0.4],[-0.83,0.39],[-0.92,0.395],[-1.02,0.385],[-1.12,0.4],
[0.16,0.39],[0.25,0.4],[0.35,0.385],[0.44,0.395],[0.54,0.39],[0.63,0.4],[0.73,0.385],[0.82,0.395],[0.92,0.39],[1.02,0.4],
[-0.15,0.325],[-0.25,0.315],[-0.34,0.33],[-0.44,0.32],[-0.53,0.325],[-0.63,0.315],[-0.72,0.33],[-0.82,0.32],[-0.91,0.325],[-1.01,0.315],[-1.11,0.33],
[0.15,0.32],[0.24,0.33],[0.34,0.315],[0.43,0.325],[0.53,0.32],[0.62,0.33],[0.72,0.315],[0.81,0.325],[0.91,0.32],[1.0,0.33],
[-0.14,0.255],[-0.24,0.245],[-0.33,0.26],[-0.43,0.25],[-0.52,0.255],[-0.62,0.245],[-0.71,0.26],[-0.81,0.25],[-0.9,0.255],[-1.0,0.245],[-1.1,0.26],
[0.14,0.25],[0.23,0.26],[0.33,0.245],[0.42,0.255],[0.52,0.25],[0.61,0.26],[0.71,0.245],[0.8,0.255],[0.9,0.25],[0.99,0.26],
[-0.13,0.185],[-0.23,0.175],[-0.32,0.19],[-0.42,0.18],[-0.51,0.185],[-0.61,0.175],[-0.7,0.19],[-0.8,0.18],[-0.89,0.185],[-0.99,0.175],
[0.13,0.18],[0.22,0.19],[0.32,0.175],[0.41,0.185],[0.51,0.18],[0.6,0.19],[0.7,0.175],[0.79,0.185],[0.89,0.18],
[-0.11,0.12],[-0.2,0.11],[-0.3,0.125],[-0.39,0.115],[-0.49,0.12],[-0.58,0.11],[-0.68,0.125],[-0.77,0.115],[-0.87,0.12],
[0.11,0.115],[0.2,0.125],[0.29,0.11],[0.39,0.12],[0.48,0.115],[0.58,0.125],[0.67,0.11],[0.77,0.12],
[-0.09,0.065],[-0.19,0.055],[-0.28,0.07],[-0.38,0.06],[-0.47,0.065],[-0.57,0.055],[-0.66,0.07],[-0.75,0.06],
[0.1,0.06],[0.19,0.07],[0.28,0.055],[0.38,0.065],[0.47,0.06],[0.57,0.07],[0.65,0.055],
[-0.06,0.025],[-0.15,0.02],[-0.24,0.03],[-0.34,0.02],[-0.43,0.025],[-0.53,0.02],[-0.62,0.03],
[0.08,0.02],[0.17,0.03],[0.26,0.02],[0.35,0.025],[0.45,0.02]];

const xTicks = [-4, 0, 4];
const yTicks = [0, 2, 4, 6];
const fdrCutoff = 0.05;
const titleText = "AF_vs_control_RA";
const xLabel = "Log2 Fold Change";
const yLabel = "-Log10 FDR";

// ---- build ----
const BLUE = "#00004D", RED = "#8B1A1A", GREY = "#B3B3B3";
const genes = geneNames.map((name, i) => ({name, x: geneLog2FC[i], y: geneLogFDR[i], lx: labelX[i], ly: labelY[i]}));
const toObj = p => ({x: p[0], y: p[1]});
const ns = nsScattered.concat(nsCore, nsCoreFill).map(toObj);
const down = downScattered.concat(downCore, downCoreFill).map(toObj).concat(genes.filter(g => g.x < 0));
const up = upScattered.concat(upCore, upCoreFill).map(toObj).concat(genes.filter(g => g.x > 0));
const links = labelLinks.map(l => ({x1: l[0], y1: l[1], x2: l[2], y2: l[3]}));
document.getElementById("title").textContent = titleText;

const R = 20;
const chart = Plot.plot({
  width: 3600,
  height: 3400,
  marginLeft: 307,
  marginRight: 51,
  marginTop: 31,
  marginBottom: 335,
  style: {fontFamily: '"Liberation Sans", Arial, Helvetica, sans-serif', background: "white", color: "black", fontSize: "100px"},
  x: {domain: [-6.45, 7.05]},
  y: {domain: [-0.33, 6.92]},
  marks: [
    Plot.dot(ns, {x: "x", y: "y", r: R, fill: GREY, fillOpacity: 0.6, stroke: "none"}),
    Plot.dot(down, {x: "x", y: "y", r: R, fill: BLUE, fillOpacity: 0.6, stroke: "none"}),
    Plot.dot(up, {x: "x", y: "y", r: R, fill: RED, fillOpacity: 0.6, stroke: "none"}),
    Plot.ruleY([-Math.log10(fdrCutoff)], {stroke: "#BEBEBE", strokeWidth: 7, strokeDasharray: "38,33"}),
    Plot.link(links, {x1: "x1", y1: "y1", x2: "x2", y2: "y2", stroke: "black", strokeWidth: 4.5}),
    Plot.text(genes, {x: "lx", y: "ly", text: "name", fontSize: 71, fill: "black"}),
    Plot.axisX({ticks: xTicks, tickSize: 0, tickPadding: 48, fontSize: 100, tickFormat: d => String(d), label: null}),
    Plot.axisY({ticks: yTicks, tickSize: 0, tickPadding: 62, fontSize: 100, tickFormat: d => String(d), label: null}),
    Plot.text([xLabel], {frameAnchor: "bottom", text: d => d, dy: 215, lineAnchor: "middle", textAnchor: "middle", fontSize: 115, fontWeight: "bold", fill: "black"}),
    Plot.text([yLabel], {frameAnchor: "left", text: d => d, rotate: -90, dx: -204, lineAnchor: "middle", textAnchor: "middle", fontSize: 115, fontWeight: "bold", fill: "black"})
  ]
});
document.getElementById("chart").appendChild(chart);
</script>
</body></html>
